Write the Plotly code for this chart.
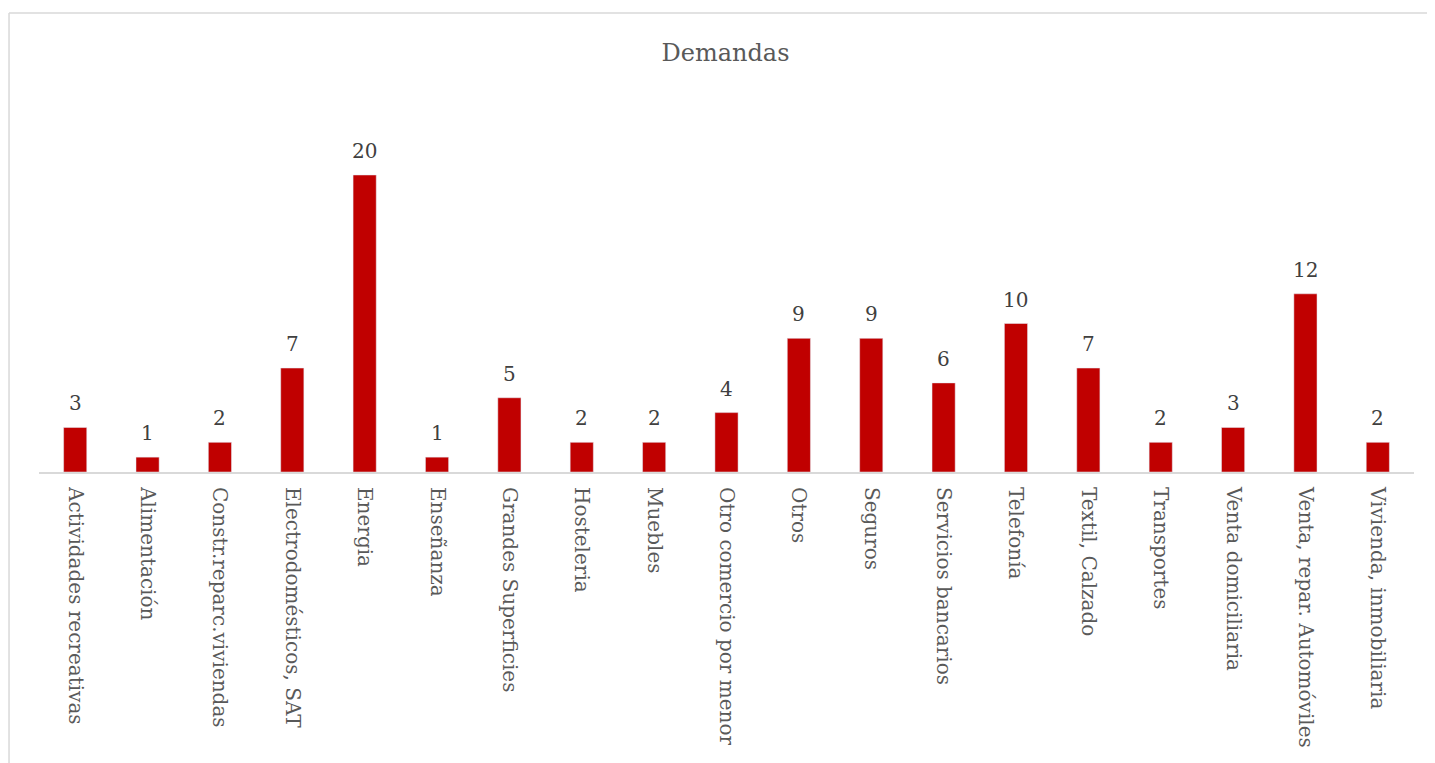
import plotly.graph_objects as go

categorias = [
    "Actividades recreativas", "Alimentación", "Constr.reparc.viviendas",
    "Electrodomésticos, SAT", "Energia", "Enseñanza", "Grandes Superficies",
    "Hosteleria", "Muebles", "Otro comercio por menor", "Otros", "Seguros",
    "Servicios bancarios", "Telefonía", "Textil, Calzado", "Transportes",
    "Venta domiciliaria", "Venta, repar. Automóviles", "Vivienda, inmobiliaria",
]
demandas = [3, 1, 2, 7, 20, 1, 5, 2, 2, 4, 9, 9, 6, 10, 7, 2, 3, 12, 2]

COLOR_BARRA = "#C00000"
FUENTE = "DejaVu Serif"

fig = go.Figure()

fig.add_trace(go.Bar(
    x=categorias,
    y=demandas,
    marker=dict(color=COLOR_BARRA),
    hoverinfo="x+y",
))

# etiquetas de valor sobre cada barra
for cat, val in zip(categorias, demandas):
    fig.add_annotation(
        x=cat, y=val, text=str(val), showarrow=False,
        yanchor="bottom", yshift=10,
        font=dict(family=FUENTE, size=20, color="#404040"),
    )

fig.update_layout(
    title=dict(text="Demandas", x=0.5, xanchor="center", y=0.942, yanchor="middle",
               font=dict(family=FUENTE, size=24, color="#595959")),
    width=1435,
    height=763,
    margin=dict(l=31, r=29, t=92, b=299),
    bargap=0.68,
    showlegend=False,
    plot_bgcolor="white",
    paper_bgcolor="white",
    font=dict(family=FUENTE, size=20, color="#595959"),
)

fig.update_xaxes(
    tickangle=90,
    showline=True,
    linecolor="#D9D9D9",
    linewidth=2,
    ticks="",
    ticklabelstandoff=9,
    tickfont=dict(family=FUENTE, size=20, color="#595959"),
)
fig.update_yaxes(visible=False, range=[0, 25.05])

# marco del gráfico
fig.add_shape(type="line", xref="paper", yref="paper",
              x0=-0.0218, x1=-0.0218, y0=1.234, y1=-0.8,
              line=dict(color="#D9D9D9", width=1.5))
fig.add_shape(type="line", xref="paper", yref="paper",
              x0=-0.0218, x1=1.03, y0=1.234, y1=1.234,
              line=dict(color="#D9D9D9", width=1.5))

fig.write_html("out.html")
